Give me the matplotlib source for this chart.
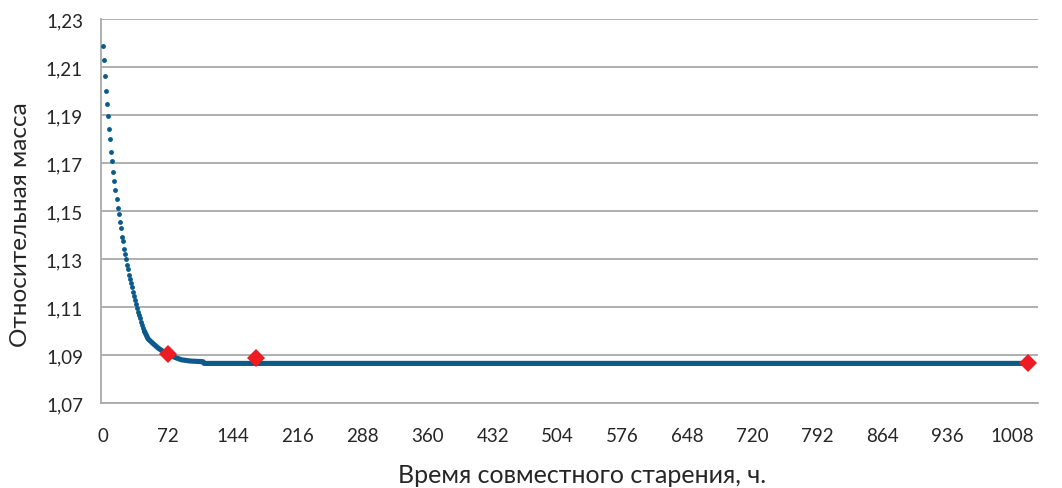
import matplotlib
matplotlib.use("Agg")
import matplotlib.pyplot as plt
from matplotlib.ticker import FixedLocator, FuncFormatter

# steep initial part, individual measurements (hours, relative mass)
decay_t = [0, 1.2, 2.3, 3.5, 4.6, 5.8, 6.9, 8.1, 9.2, 10.4, 11.5, 12.7, 13.8, 15, 16.1,
           17.3, 18.4, 19.6, 20.7, 21.9, 23, 24.2, 25.3, 26.5, 27.6, 28.8, 29.9, 31.1,
           32.2, 33.4, 34.5, 35.7, 36.8, 38, 39.1, 40.3, 41.4, 42.6, 43.7, 44.9, 46]
decay_m = [1.2189, 1.2129, 1.2061, 1.2000, 1.1947, 1.1897, 1.1843, 1.1799, 1.1746,
           1.1710, 1.1664, 1.1625, 1.1588, 1.1550, 1.1514, 1.1488, 1.1455, 1.1428,
           1.1393, 1.1374, 1.1342, 1.1321, 1.1300, 1.1276, 1.1257, 1.1235, 1.1217,
           1.1200, 1.1182, 1.1164, 1.1147, 1.1129, 1.1112, 1.1096, 1.1080, 1.1067,
           1.1053, 1.1039, 1.1025, 1.1011, 1.0999]

# dense tail where points merge into a solid band
tail_t = [46, 50, 56, 61.5, 67, 72.4, 79.8, 87, 96.5, 111, 112, 1028]
tail_m = [1.0999, 1.0967, 1.0946, 1.0928, 1.0914, 1.0904, 1.0890, 1.0880, 1.0875,
          1.0872, 1.0865, 1.0865]

# control weighings
ctrl_t = [72, 170, 1025]
ctrl_m = [1.0904, 1.0886, 1.0865]

xticks = list(range(0, 1009, 72))
yticks = [1.07, 1.09, 1.11, 1.13, 1.15, 1.17, 1.19, 1.21, 1.23]

blue = "#0A5A8C"
red = "#ED1C24"
grey = "#A9A9A9"

plt.rcParams["font.family"] = ["Lato", "Open Sans", "DejaVu Sans"]

fig = plt.figure(figsize=(10.62, 4.89), dpi=100)
ax = fig.add_axes([101 / 1062, 1 - 404 / 489, 937 / 1062, 384 / 489])

ax.plot(tail_t, tail_m, color=blue, lw=3.7, solid_capstyle="round", zorder=3)
ax.plot(decay_t, decay_m, "o", color=blue, ms=3.5, mew=0, zorder=3)
ax.plot(ctrl_t, ctrl_m, "D", color=red, ms=9.6, mew=0, zorder=4)

ax.set_xlim(-2.2, 1036.6)
ax.set_ylim(1.07, 1.23)
ax.xaxis.set_major_locator(FixedLocator(xticks))
ax.yaxis.set_major_locator(FixedLocator(yticks))
ax.yaxis.set_major_formatter(FuncFormatter(lambda v, p: f"{v:.2f}".replace(".", ",")))

ax.grid(axis="y", color=grey, lw=1.3)
ax.set_axisbelow(True)
for s in ["top", "right"]:
    ax.spines[s].set_visible(False)
for s in ["left", "bottom"]:
    ax.spines[s].set_color(grey)
    ax.spines[s].set_linewidth(1.3)

ax.tick_params(axis="both", length=0, labelsize=13.5, colors="#262626")
ax.tick_params(axis="x", pad=17)
ax.tick_params(axis="y", pad=13)

ax.set_xlabel("Время совместного старения, ч.", fontsize=18, color="#262626")
ax.set_ylabel("Относительная масса", fontsize=17.5, color="#262626")
ax.xaxis.set_label_coords(0.513, -0.155)
ax.yaxis.set_label_coords(-0.075, 0.466)

fig.savefig("out.png", dpi=100)
